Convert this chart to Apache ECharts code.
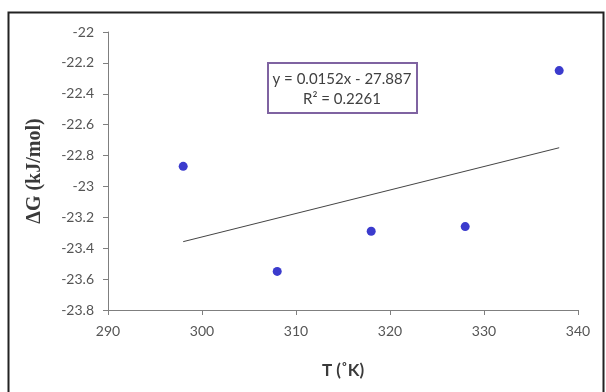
<!DOCTYPE html>
<html>
<head>
<meta charset="utf-8">
<script src="https://cdn.jsdelivr.net/npm/echarts@6/dist/echarts.min.js"></script>
<style>
html,body{margin:0;padding:0;background:#fff;}
#main{width:606px;height:392px;}
</style>
</head>
<body>
<div id="main"></div>
<script>
// 数据
var temps = [298, 308, 318, 328, 338];
var dG = [-22.87, -23.55, -23.29, -23.26, -22.25];
var slope = 0.0152;
var intercept = -27.887;
var r2 = 0.2261;
var xTicks = [290, 300, 310, 320, 330, 340];
var yTicks = [-23.8, -23.6, -23.4, -23.2, -23, -22.8, -22.6, -22.4, -22.2, -22];

var points = temps.map(function (t, i) { return [t, dG[i]]; });
var trend = [
    [temps[0], slope * temps[0] + intercept],
    [temps[temps.length - 1], slope * temps[temps.length - 1] + intercept]
];

var myChart = echarts.init(document.getElementById('main'));

var labelFont = 'Lato, "Open Sans", sans-serif';

option = {
    animation: false,
    backgroundColor: '#fff',
    grid: { left: 108, right: 28, top: 32, bottom: 82 },
    xAxis: {
        type: 'value',
        min: xTicks[0],
        max: xTicks[xTicks.length - 1],
        interval: 10,
        name: 'T (˚K)',
        nameLocation: 'middle',
        nameGap: 52,
        nameTextStyle: { fontFamily: labelFont, fontWeight: 'bold', fontSize: 17, color: '#3a3a3a' },
        axisLine: { lineStyle: { color: '#7f7f7f', width: 1 } },
        axisTick: { show: true, length: 5, lineStyle: { color: '#7f7f7f' } },
        axisLabel: { margin: 14, fontFamily: labelFont, fontSize: 14, color: '#555' },
        splitLine: { show: false }
    },
    yAxis: {
        type: 'value',
        min: yTicks[0],
        max: yTicks[yTicks.length - 1],
        interval: 0.2,
        name: 'ΔG (kJ/mol)',
        nameLocation: 'middle',
        nameGap: 63,
        nameTextStyle: { fontFamily: '"Liberation Serif", serif', fontWeight: 'bold', fontSize: 20, color: '#3a3a3a' },
        axisLine: { show: true, lineStyle: { color: '#7f7f7f', width: 1 } },
        axisTick: { show: true, length: 5, lineStyle: { color: '#7f7f7f' } },
        axisLabel: {
            margin: 14, fontFamily: labelFont, fontSize: 14, color: '#555',
            formatter: function (v) { return String(Math.round(v * 10) / 10); }
        },
        splitLine: { show: false }
    },
    graphic: [
        {
            type: 'rect',
            shape: { x: 8.5, y: 12.5, width: 595, height: 400 },
            style: { fill: 'none', stroke: '#222', lineWidth: 2 },
            silent: true
        },
        {
            type: 'rect',
            shape: { x: 268, y: 63, width: 149, height: 50 },
            style: { fill: '#fff', stroke: '#7F63A1', lineWidth: 2 },
            z: 10
        },
        {
            type: 'text',
            x: 342, y: 79,
            style: {
                text: 'y = ' + slope + 'x - ' + Math.abs(intercept),
                fontFamily: labelFont, fontSize: 15, fill: '#404040',
                align: 'center', verticalAlign: 'middle'
            },
            z: 11
        },
        {
            type: 'text',
            x: 342, y: 99,
            style: {
                text: 'R² = ' + r2,
                fontFamily: labelFont, fontSize: 15, fill: '#404040',
                align: 'center', verticalAlign: 'middle'
            },
            z: 11
        }
    ],
    series: [
        {
            name: 'trend',
            type: 'line',
            data: trend,
            symbol: 'none',
            lineStyle: { color: '#444', width: 1 },
            silent: true
        },
        {
            name: 'dG',
            type: 'scatter',
            data: points,
            symbol: 'circle',
            symbolSize: 9,
            itemStyle: { color: '#0A0AC0' }
        }
    ]
};

myChart.setOption(option);
</script>
</body>
</html>
